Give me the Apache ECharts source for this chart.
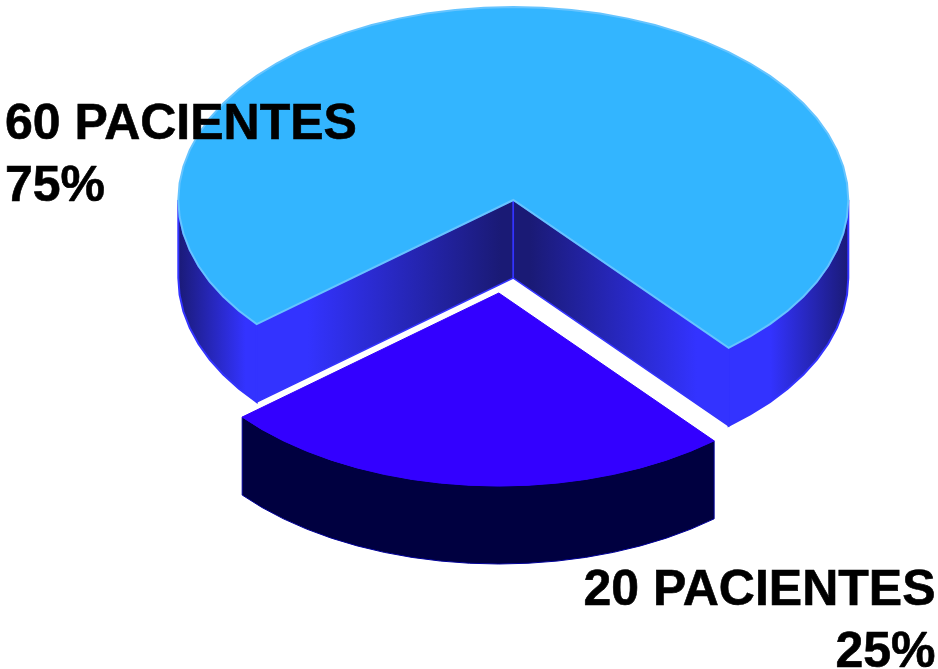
<!DOCTYPE html>
<html>
<head>
<meta charset="utf-8">
<style>html,body{margin:0;padding:0;background:#fff}#chart{width:938px;height:669px}</style>
<script src="https://cdn.jsdelivr.net/npm/echarts@6/dist/echarts.min.js"></script>
</head>
<body>
<div id="chart"></div>
<script>
// Patients per group and the share printed beside each slice
const categories = ['Grupo A', 'Grupo B'];
const patients = [60, 20];
const shares = [75, 25];

// Projection of the tilted pie on the page
const PIE = { cx: 513.3, cy: 200, rx: 335, ry: 193, depth: 78, startDeg: 50, stepDeg: 5 };
const EXPLODE = [[0, 0], [-14.5, 93]];
const LABEL_AT = [
  { x: 5, y: 94.5, align: 'left' },
  { x: 935.5, y: 560, align: 'right' }
];
const DARK = '#1A1A75', BRIGHT = '#3333FF';

const total = patients.reduce((a, b) => a + b, 0);

// Page position of a rim point, given the slice offset and height level
function rim(deg, off, drop) {
  const t = deg * Math.PI / 180;
  return [PIE.cx + off[0] + PIE.rx * Math.cos(t), PIE.cy + off[1] + PIE.ry * Math.sin(t) + drop];
}
function arc(a, b, off, drop) {
  const n = Math.max(2, Math.ceil(Math.abs(b - a) / PIE.stepDeg));
  const pts = [];
  for (let i = 0; i <= n; i++) pts.push(rim(a + (b - a) * i / n, off, drop));
  return pts;
}
function hGrad(stops) {
  return new echarts.graphic.LinearGradient(0, 0, 1, 0, stops.map(s => ({ offset: s[0], color: s[1] })));
}
function poly(points, style, z2) {
  return { type: 'polygon', shape: { points }, style, z2 };
}
function band(a, b, off, fill, stroke, lw, z2) {
  const top = arc(a, b, off, 0);
  const low = arc(b, a, off, PIE.depth);
  return poly(top.concat(low), { fill, stroke, lineWidth: lw }, z2);
}
function wall(deg, off, fill, z2) {
  const c = [PIE.cx + off[0], PIE.cy + off[1]];
  const e = rim(deg, off, 0);
  return poly([c, e, [e[0], e[1] + PIE.depth], [c[0], c[1] + PIE.depth]],
    { fill, stroke: BRIGHT, lineWidth: 1.5 }, z2);
}
function sliceTop(a, b, off, fill, stroke, lw, z2) {
  const c = [PIE.cx + off[0], PIE.cy + off[1]];
  return poly([c].concat(arc(a, b, off, 0)), { fill, stroke, lineWidth: lw }, z2);
}

const rows = patients.map((v, i) => [v, shares[i], i]);

function renderSlice(params, api) {
  const idx = api.value(2);
  const off = EXPLODE[idx];
  const span = api.value(0) / total * 360;
  const children = [];
  if (idx === 0) {
    // Larger slice: starts where the smaller one ends and wraps round the back
    const a = PIE.startDeg + patients[1] / total * 360;
    const b = a + span;
    children.push(
      band(a, 180, off, hGrad([[0, DARK], [0.85, BRIGHT], [1, BRIGHT]]), BRIGHT, 2, 1),
      band(360, b, off, hGrad([[0, BRIGHT], [0.35, BRIGHT], [1, DARK]]), BRIGHT, 2, 1),
      wall(a, off, hGrad([[0, BRIGHT], [0.2, BRIGHT], [0.95, DARK], [1, DARK]]), 2),
      wall(b, off, hGrad([[0, DARK], [0.08, DARK], [0.85, BRIGHT], [1, BRIGHT]]), 2),
      sliceTop(a, b, off, '#33B5FF', '#66C4FF', 2, 3)
    );
  } else {
    const a = PIE.startDeg;
    const b = a + span;
    children.push(
      band(a, b, off, '#000040', '#000099', 1, 4),
      sliceTop(a, b, off, '#3300FF', '#3300FF', 1, 5)
    );
  }
  const at = LABEL_AT[idx];
  children.push({
    type: 'text', z2: 10,
    style: {
      x: at.x, y: at.y, align: at.align, verticalAlign: 'top',
      text: api.value(0) + ' PACIENTES\n' + api.value(1) + '%',
      font: 'bold 50px "Liberation Sans", Arial, sans-serif',
      lineHeight: 62, fill: '#000', stroke: '#000', lineWidth: 0.6
    }
  });
  return { type: 'group', children };
}

const chart = echarts.init(document.getElementById('chart'), null, { renderer: 'canvas' });
chart.setOption({
  animation: false,
  backgroundColor: '#fff',
  series: [{
    type: 'custom',
    name: 'Pacientes',
    coordinateSystem: 'none',
    silent: true,
    clip: false,
    data: rows.map((r, i) => ({ name: categories[i], value: r })),
    renderItem: renderSlice
  }]
});
</script>
</body>
</html>
